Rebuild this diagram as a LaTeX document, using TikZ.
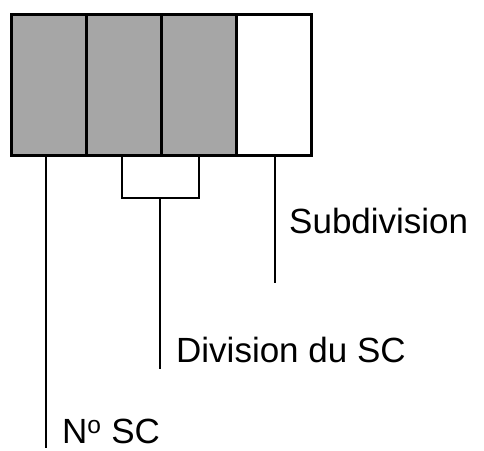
\documentclass[tikz,border=0pt]{standalone}
\usepackage{fontspec}
\setmainfont{Liberation Sans}
\begin{document}
\begin{tikzpicture}[x=1pt,y=-1pt,
  cell/.style={draw=black,line width=3pt,minimum width=75pt,minimum height=141pt,inner sep=0pt,outer sep=0pt},
  lbl/.style={anchor=base west,inner sep=0pt,font=\fontsize{35}{40}\selectfont},
  wire/.style={line width=2.5pt}]
\useasboundingbox (0,0) rectangle (484,450);
\node[cell,fill={rgb,255:red,166;green,166;blue,166},anchor=north west] (c1) at (11.5,14.5) {};
\node[cell,fill={rgb,255:red,166;green,166;blue,166},anchor=north west] (c2) at (c1.north east) {};
\node[cell,fill={rgb,255:red,166;green,166;blue,166},anchor=north west] (c3) at (c2.north east) {};
\node[cell,fill=white,anchor=north west] (c4) at (c3.north east) {};
\draw[line width=3pt] (c1.north west) rectangle (c4.south east);
\node[lbl] (sub) at (289,233) {Subdivision};
\node[lbl] (div) at (176,362) {Division du SC};
\node[lbl] (num) at (62,443) {N\textsuperscript{o} SC};
\coordinate (e1) at (46,448);
\coordinate (e2) at (160,369);
\coordinate (e3) at (275,283);
\draw[wire] (46,155.5) -- (e1);
\draw[wire] (122,155.5) -- (122,198) -- (199,198) -- (199,155.5);
\draw[wire] (160,198) -- (e2);
\draw[wire] (275,155.5) -- (e3);
\end{tikzpicture}
\end{document}
